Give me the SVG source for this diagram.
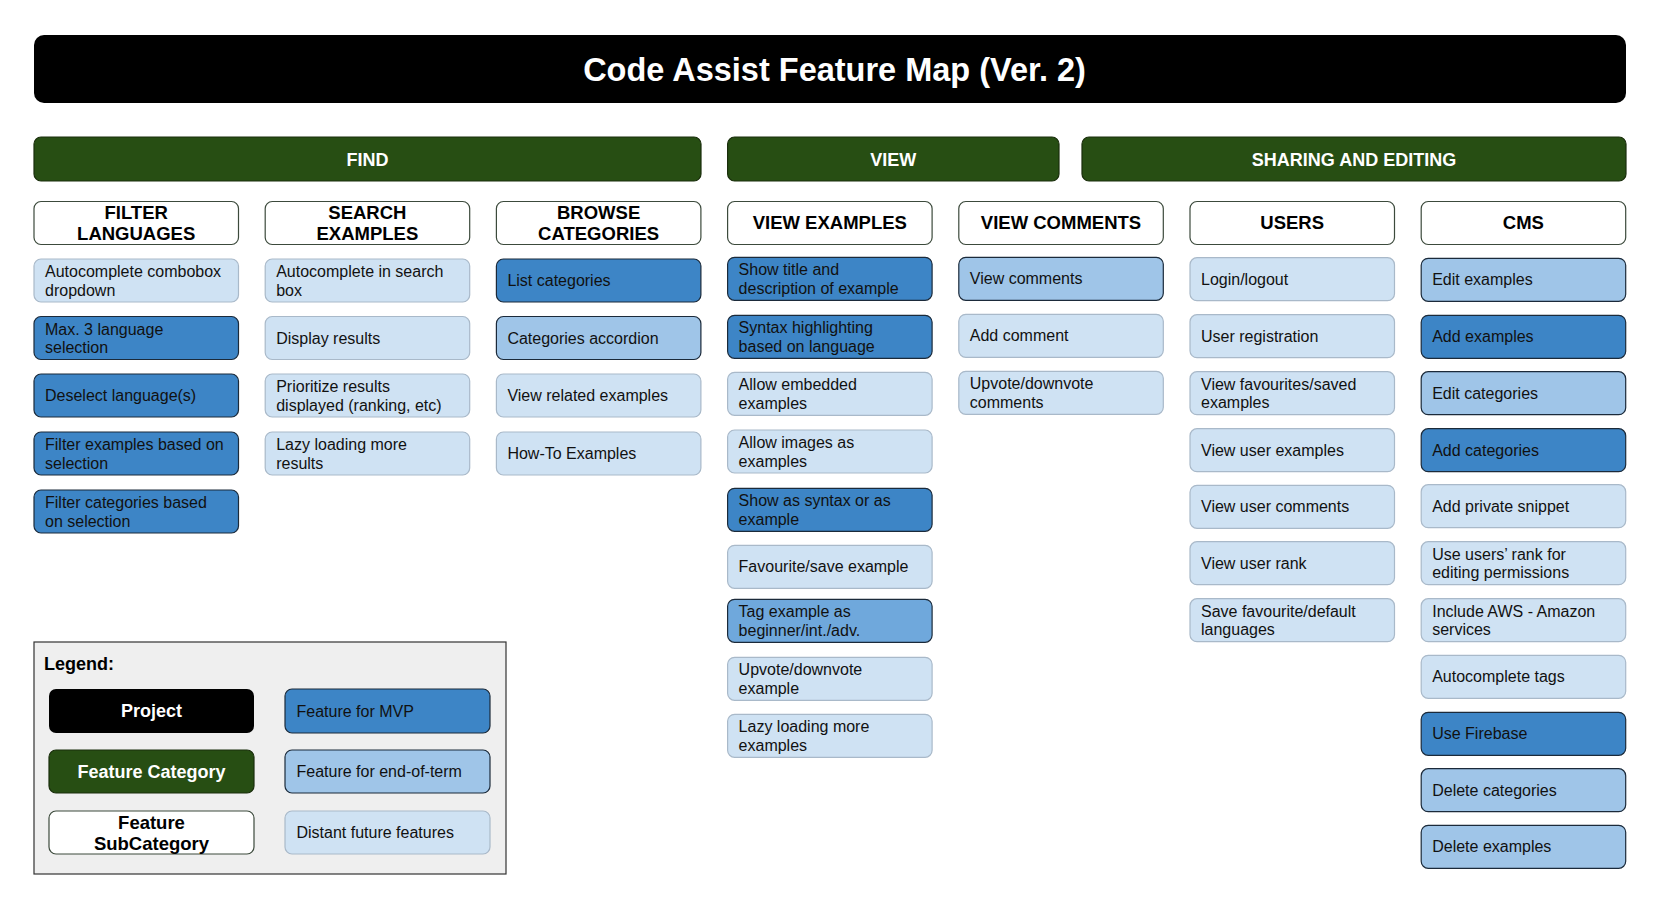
<svg xmlns="http://www.w3.org/2000/svg" width="1667" height="912" viewBox="0 0 1667 912">
<style>
.it{font-family:"Liberation Sans",Arial,sans-serif;font-size:16px;fill:#111}
.hd{font-family:"Liberation Sans",Arial,sans-serif;font-size:18.5px;font-weight:bold;fill:#000;text-anchor:middle}
.ct{font-family:"Liberation Sans",Arial,sans-serif;font-size:18px;font-weight:bold;fill:#fff;text-anchor:middle}
.mvp{fill:#3d85c6;stroke:#1b2a3a;stroke-width:1.2}
.eot{fill:#9fc5e8;stroke:#1b2a3a;stroke-width:1.2}
.tag{fill:#6fa8dc;stroke:#1b2a3a;stroke-width:1.2}
.dist{fill:#cfe2f3;stroke:#a9b9c9;stroke-width:1.2}
.sub{fill:#fff;stroke:#3c4a3c;stroke-width:1.2}
.cat{fill:#274e13;stroke:#1a2e0c;stroke-width:1.2}
</style>
<rect width="1667" height="912" fill="#fff"/>
<g id="title">
<rect x="34" y="35" width="1592" height="68" rx="10" fill="#000"/>
<text x="834.5" y="81" font-family="Liberation Sans,Arial,sans-serif" font-size="32.5" font-weight="bold" fill="#fff" text-anchor="middle">Code Assist Feature Map (Ver. 2)</text>
</g>
<g id="cat-find"><rect class="cat" x="34" y="137" width="667" height="44" rx="7"/><text class="ct" x="367.5" y="165.5">FIND</text></g>
<g id="cat-view"><rect class="cat" x="727.6" y="137" width="331.4" height="44" rx="7"/><text class="ct" x="893.3" y="165.5">VIEW</text></g>
<g id="cat-sharing"><rect class="cat" x="1082" y="137" width="544" height="44" rx="7"/><text class="ct" x="1354" y="165.5">SHARING AND EDITING</text></g>

<g id="sub-filter"><rect class="sub" x="34" y="201.5" width="204.5" height="43" rx="7"/><text class="hd" x="136.2" y="219">FILTER</text><text class="hd" x="136.2" y="240">LANGUAGES</text></g>
<g id="sub-search"><rect class="sub" x="265.2" y="201.5" width="204.5" height="43" rx="7"/><text class="hd" x="367.4" y="219">SEARCH</text><text class="hd" x="367.4" y="240">EXAMPLES</text></g>
<g id="sub-browse"><rect class="sub" x="496.4" y="201.5" width="204.5" height="43" rx="7"/><text class="hd" x="598.6" y="219">BROWSE</text><text class="hd" x="598.6" y="240">CATEGORIES</text></g>
<g id="sub-viewex"><rect class="sub" x="727.6" y="201.5" width="204.5" height="43" rx="7"/><text class="hd" x="829.8" y="229.4">VIEW EXAMPLES</text></g>
<g id="sub-viewcom"><rect class="sub" x="958.8" y="201.5" width="204.5" height="43" rx="7"/><text class="hd" x="1061" y="229.4">VIEW COMMENTS</text></g>
<g id="sub-users"><rect class="sub" x="1190" y="201.5" width="204.5" height="43" rx="7"/><text class="hd" x="1292.2" y="229.4">USERS</text></g>
<g id="sub-cms"><rect class="sub" x="1421.2" y="201.5" width="204.5" height="43" rx="7"/><text class="hd" x="1523.4" y="229.4">CMS</text></g>

<!-- FILTER LANGUAGES -->
<g id="f1"><rect class="dist" x="34" y="259" width="204.5" height="43" rx="7"/><text class="it" x="45" y="277">Autocomplete combobox</text><text class="it" x="45" y="295.7">dropdown</text></g>
<g id="f2"><rect class="mvp" x="34" y="316.5" width="204.5" height="43" rx="7"/><text class="it" x="45" y="334.5">Max. 3 language</text><text class="it" x="45" y="353.2">selection</text></g>
<g id="f3"><rect class="mvp" x="34" y="374" width="204.5" height="43" rx="7"/><text class="it" x="45" y="401">Deselect language(s)</text></g>
<g id="f4"><rect class="mvp" x="34" y="432" width="204.5" height="43" rx="7"/><text class="it" x="45" y="450">Filter examples based on</text><text class="it" x="45" y="468.7">selection</text></g>
<g id="f5"><rect class="mvp" x="34" y="490" width="204.5" height="43" rx="7"/><text class="it" x="45" y="508">Filter categories based</text><text class="it" x="45" y="526.7">on selection</text></g>

<!-- SEARCH EXAMPLES -->
<g id="s1"><rect class="dist" x="265.2" y="259" width="204.5" height="43" rx="7"/><text class="it" x="276.2" y="277">Autocomplete in search</text><text class="it" x="276.2" y="295.7">box</text></g>
<g id="s2"><rect class="dist" x="265.2" y="316.5" width="204.5" height="43" rx="7"/><text class="it" x="276.2" y="343.5">Display results</text></g>
<g id="s3"><rect class="dist" x="265.2" y="374" width="204.5" height="43" rx="7"/><text class="it" x="276.2" y="392">Prioritize results</text><text class="it" x="276.2" y="410.7">displayed (ranking, etc)</text></g>
<g id="s4"><rect class="dist" x="265.2" y="432" width="204.5" height="43" rx="7"/><text class="it" x="276.2" y="450">Lazy loading more</text><text class="it" x="276.2" y="468.7">results</text></g>

<!-- BROWSE CATEGORIES -->
<g id="b1"><rect class="mvp" x="496.4" y="259" width="204.5" height="43" rx="7"/><text class="it" x="507.4" y="286">List categories</text></g>
<g id="b2"><rect class="eot" x="496.4" y="316.5" width="204.5" height="43" rx="7"/><text class="it" x="507.4" y="343.5">Categories accordion</text></g>
<g id="b3"><rect class="dist" x="496.4" y="374" width="204.5" height="43" rx="7"/><text class="it" x="507.4" y="401">View related examples</text></g>
<g id="b4"><rect class="dist" x="496.4" y="432" width="204.5" height="43" rx="7"/><text class="it" x="507.4" y="459">How-To Examples</text></g>

<!-- VIEW EXAMPLES -->
<g id="v1"><rect class="mvp" x="727.6" y="257.3" width="204.5" height="43" rx="7"/><text class="it" x="738.6" y="275.3">Show title and</text><text class="it" x="738.6" y="294">description of example</text></g>
<g id="v2"><rect class="mvp" x="727.6" y="315.3" width="204.5" height="43" rx="7"/><text class="it" x="738.6" y="333.3">Syntax highlighting</text><text class="it" x="738.6" y="352">based on language</text></g>
<g id="v3"><rect class="dist" x="727.6" y="372.3" width="204.5" height="43" rx="7"/><text class="it" x="738.6" y="390.3">Allow embedded</text><text class="it" x="738.6" y="409">examples</text></g>
<g id="v4"><rect class="dist" x="727.6" y="430" width="204.5" height="43" rx="7"/><text class="it" x="738.6" y="448">Allow images as</text><text class="it" x="738.6" y="466.7">examples</text></g>
<g id="v5"><rect class="mvp" x="727.6" y="488.3" width="204.5" height="43" rx="7"/><text class="it" x="738.6" y="506.3">Show as syntax or as</text><text class="it" x="738.6" y="525">example</text></g>
<g id="v6"><rect class="dist" x="727.6" y="545.3" width="204.5" height="43" rx="7"/><text class="it" x="738.6" y="572.3">Favourite/save example</text></g>
<g id="v7"><rect class="tag" x="727.6" y="599.3" width="204.5" height="43" rx="7"/><text class="it" x="738.6" y="617.3">Tag example as</text><text class="it" x="738.6" y="636">beginner/int./adv.</text></g>
<g id="v8"><rect class="dist" x="727.6" y="657.3" width="204.5" height="43" rx="7"/><text class="it" x="738.6" y="675.3">Upvote/downvote</text><text class="it" x="738.6" y="694">example</text></g>
<g id="v9"><rect class="dist" x="727.6" y="714.3" width="204.5" height="43" rx="7"/><text class="it" x="738.6" y="732.3">Lazy loading more</text><text class="it" x="738.6" y="751">examples</text></g>

<!-- VIEW COMMENTS -->
<g id="c1"><rect class="eot" x="958.8" y="257.3" width="204.5" height="43" rx="7"/><text class="it" x="969.8" y="284.3">View comments</text></g>
<g id="c2"><rect class="dist" x="958.8" y="314.3" width="204.5" height="43" rx="7"/><text class="it" x="969.8" y="341.3">Add comment</text></g>
<g id="c3"><rect class="dist" x="958.8" y="371.3" width="204.5" height="43" rx="7"/><text class="it" x="969.8" y="389.3">Upvote/downvote</text><text class="it" x="969.8" y="408">comments</text></g>

<!-- USERS -->
<g id="u1"><rect class="dist" x="1190" y="257.7" width="204.5" height="43" rx="7"/><text class="it" x="1201" y="284.7">Login/logout</text></g>
<g id="u2"><rect class="dist" x="1190" y="314.7" width="204.5" height="43" rx="7"/><text class="it" x="1201" y="341.7">User registration</text></g>
<g id="u3"><rect class="dist" x="1190" y="371.7" width="204.5" height="43" rx="7"/><text class="it" x="1201" y="389.7">View favourites/saved</text><text class="it" x="1201" y="408.4">examples</text></g>
<g id="u4"><rect class="dist" x="1190" y="428.7" width="204.5" height="43" rx="7"/><text class="it" x="1201" y="455.7">View user examples</text></g>
<g id="u5"><rect class="dist" x="1190" y="485.3" width="204.5" height="43" rx="7"/><text class="it" x="1201" y="512.3">View user comments</text></g>
<g id="u6"><rect class="dist" x="1190" y="541.7" width="204.5" height="43" rx="7"/><text class="it" x="1201" y="568.7">View user rank</text></g>
<g id="u7"><rect class="dist" x="1190" y="598.7" width="204.5" height="43" rx="7"/><text class="it" x="1201" y="616.7">Save favourite/default</text><text class="it" x="1201" y="635.4">languages</text></g>

<!-- CMS -->
<g id="m1"><rect class="eot" x="1421.2" y="258.3" width="204.5" height="43" rx="7"/><text class="it" x="1432.2" y="285.3">Edit examples</text></g>
<g id="m2"><rect class="mvp" x="1421.2" y="315.3" width="204.5" height="43" rx="7"/><text class="it" x="1432.2" y="342.3">Add examples</text></g>
<g id="m3"><rect class="eot" x="1421.2" y="371.7" width="204.5" height="43" rx="7"/><text class="it" x="1432.2" y="398.7">Edit categories</text></g>
<g id="m4"><rect class="mvp" x="1421.2" y="428.7" width="204.5" height="43" rx="7"/><text class="it" x="1432.2" y="455.7">Add categories</text></g>
<g id="m5"><rect class="dist" x="1421.2" y="484.7" width="204.5" height="43" rx="7"/><text class="it" x="1432.2" y="511.7">Add private snippet</text></g>
<g id="m6"><rect class="dist" x="1421.2" y="541.7" width="204.5" height="43" rx="7"/><text class="it" x="1432.2" y="559.7">Use users’ rank for</text><text class="it" x="1432.2" y="578.4">editing permissions</text></g>
<g id="m7"><rect class="dist" x="1421.2" y="598.7" width="204.5" height="43" rx="7"/><text class="it" x="1432.2" y="616.7">Include AWS - Amazon</text><text class="it" x="1432.2" y="635.4">services</text></g>
<g id="m8"><rect class="dist" x="1421.2" y="655.3" width="204.5" height="43" rx="7"/><text class="it" x="1432.2" y="682.3">Autocomplete tags</text></g>
<g id="m9"><rect class="mvp" x="1421.2" y="712.3" width="204.5" height="43" rx="7"/><text class="it" x="1432.2" y="739.3">Use Firebase</text></g>
<g id="m10"><rect class="eot" x="1421.2" y="768.7" width="204.5" height="43" rx="7"/><text class="it" x="1432.2" y="795.7">Delete categories</text></g>
<g id="m11"><rect class="eot" x="1421.2" y="825.3" width="204.5" height="43" rx="7"/><text class="it" x="1432.2" y="852.3">Delete examples</text></g>

<!-- LEGEND -->
<g id="legend">
<rect x="34" y="642" width="472" height="232" fill="#efefef" stroke="#333" stroke-width="1.2"/>
<text x="44" y="670" font-family="Liberation Sans,Arial,sans-serif" font-size="18" font-weight="bold" fill="#000">Legend:</text>
<rect x="49" y="689" width="205" height="44" rx="7" fill="#000"/>
<text class="ct" x="151.5" y="717.4" font-size="18.5">Project</text>
<rect class="cat" x="49" y="750" width="205" height="43" rx="7"/>
<text class="ct" x="151.5" y="778" font-size="18.5">Feature Category</text>
<rect class="sub" x="49" y="811" width="205" height="43" rx="7"/>
<text class="hd" x="151.5" y="828.6">Feature</text>
<text class="hd" x="151.5" y="849.6">SubCategory</text>
<rect class="mvp" x="285" y="689" width="205" height="44" rx="7"/>
<text class="it" x="296.5" y="716.8">Feature for MVP</text>
<rect class="eot" x="285" y="750" width="205" height="43" rx="7"/>
<text class="it" x="296.5" y="777.2">Feature for end-of-term</text>
<rect class="dist" x="285" y="811" width="205" height="43" rx="7"/>
<text class="it" x="296.5" y="838.2">Distant future features</text>
</g>
</svg>
